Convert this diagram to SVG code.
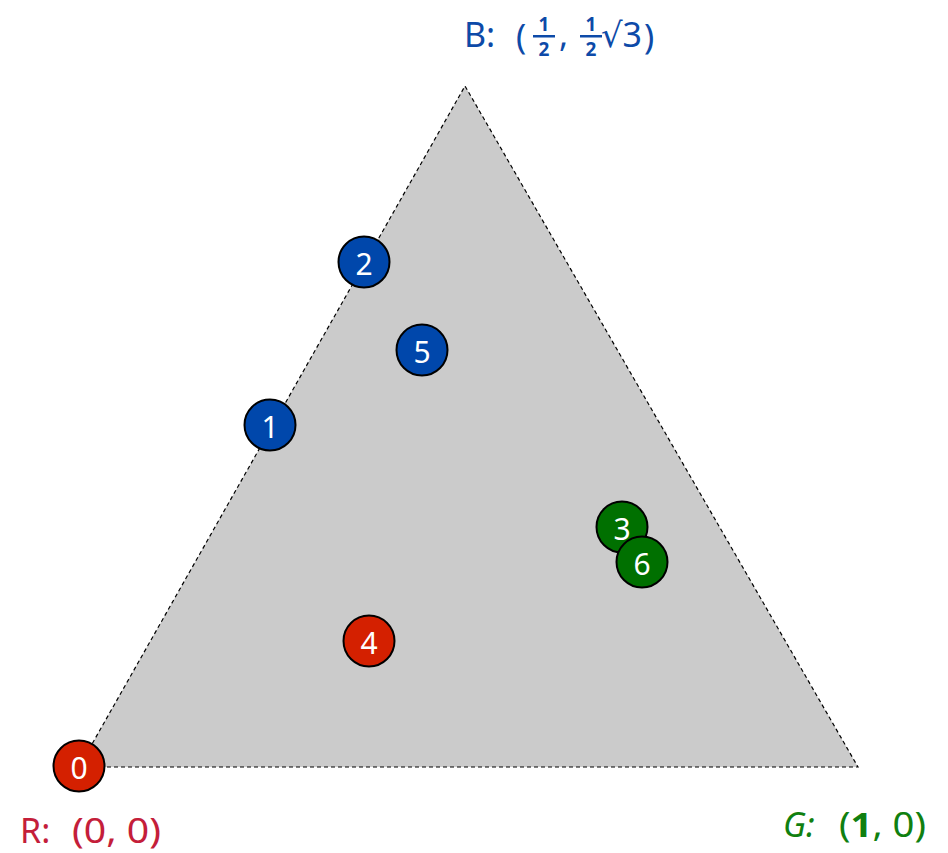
<svg xmlns="http://www.w3.org/2000/svg" width="948" height="853" viewBox="0 0 948 853">
<style>
.node circle{stroke:#000;stroke-width:2}
.node text{fill:#fff;font-family:"Noto Sans","DejaVu Sans",sans-serif;font-size:30px;text-anchor:middle;dominant-baseline:central}
.r circle{fill:#d42000}
.b circle{fill:#0047ab}
.g circle{fill:#007000}
.lbl{font-family:"Noto Sans","DejaVu Sans",sans-serif;font-size:34px}
.frac{font-family:"Noto Sans","DejaVu Sans",sans-serif;font-size:19px;font-weight:bold;text-anchor:middle}
</style>
<rect width="948" height="853" fill="#fff"/>
<g id="edges">
<polygon points="79,767 858,767 465,86" fill="#cbcbcb" stroke="#000" stroke-width="1.2" stroke-dasharray="4,3"/>
</g>
<g id="n0" class="node r"><circle cx="79" cy="766" r="25.5"/><text x="79" y="767">0</text></g>
<g id="n1" class="node b"><circle cx="270" cy="425" r="25.5"/><text x="270" y="426">1</text></g>
<g id="n2" class="node b"><circle cx="364" cy="262" r="25.5"/><text x="364" y="263">2</text></g>
<g id="n5" class="node b"><circle cx="422" cy="350" r="25.5"/><text x="422" y="351">5</text></g>
<g id="n3" class="node g"><circle cx="622" cy="527" r="25.5"/><text x="622" y="528">3</text></g>
<g id="n6" class="node g"><circle cx="642" cy="562" r="25.5"/><text x="642" y="563">6</text></g>
<g id="n4" class="node r"><circle cx="369" cy="641" r="25.5"/><text x="369" y="642">4</text></g>
<g id="labelB" fill="#0d4aa8">
<text class="lbl" x="464" y="47">B:</text>
<text class="lbl" x="516" y="49" font-size="38">(</text>
<text class="frac" x="544" y="31">1</text>
<rect x="533" y="35" width="22" height="2.5"/>
<text class="frac" x="544" y="56">2</text>
<text class="lbl" x="559" y="47">,</text>
<text class="frac" x="591" y="31">1</text>
<rect x="580" y="35" width="22" height="2.5"/>
<text class="frac" x="591" y="56">2</text>
<text class="lbl" x="601" y="47" textLength="41" lengthAdjust="spacingAndGlyphs">√3</text>
<text class="lbl" x="644" y="49" font-size="38">)</text>
</g>
<g id="labelR" fill="#c41e3a">
<text class="lbl" x="20" y="843">R:</text>
<text class="lbl" x="72" y="843" textLength="89" lengthAdjust="spacingAndGlyphs">(0, 0)</text>
</g>
<g id="labelG" fill="#108010">
<text class="lbl" x="783" y="837" font-style="italic">G:</text>
<text class="lbl" x="839" y="837" textLength="87" lengthAdjust="spacingAndGlyphs">(<tspan font-weight="bold">1</tspan>, 0)</text>
</g>
</svg>
